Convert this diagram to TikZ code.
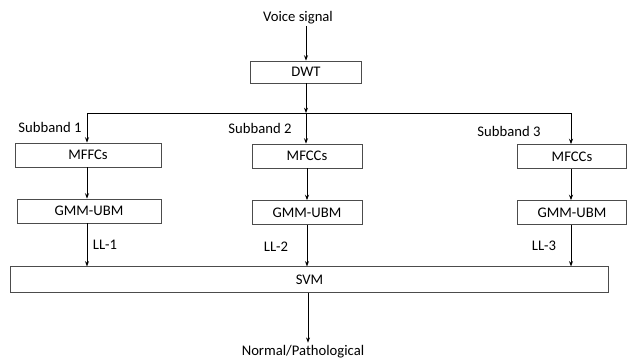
\documentclass[tikz,border=0pt]{standalone}
\usepackage{fontspec}
\setmainfont{Carlito}
\usetikzlibrary{arrows.meta}
\tikzset{
  blk/.style={draw=black!70, line width=0.6pt, inner sep=0pt},
  lbl/.style={inner sep=1pt},
  flow/.style={draw, line width=0.6pt, -{Stealth[length=4pt,width=3pt]}}
}
\begin{document}
\begin{tikzpicture}[x=0.75pt,y=-0.75pt,font=\fontsize{11}{13}\selectfont]
% page is 628 x 358 px, y grows downwards
\useasboundingbox (0,0) rectangle (628,358);
\node[lbl] (voice) at (298,18) {Voice signal};
\node[blk,minimum width=83pt,minimum height=16.5pt] (dwt) at (306,72) {DWT};
\coordinate (split) at (306,113);
\coordinate (splitA) at (87,113);
\coordinate (splitC) at (571,113);
% three subbands
\node[blk,minimum width=109.5pt,minimum height=18pt] (mfccA) at (88,155) {MFFCs};
\node[blk,minimum width=82.5pt,minimum height=18pt] (mfccB) at (307,156) {MFCCs};
\node[blk,minimum width=82pt,minimum height=18pt] (mfccC) at (572,156.5) {MFCCs};
\node[blk,minimum width=108pt,minimum height=18pt] (gmmA) at (89,211) {GMM-UBM};
\node[blk,minimum width=82.5pt,minimum height=18pt] (gmmB) at (307,212.5) {GMM-UBM};
\node[blk,minimum width=82pt,minimum height=18pt] (gmmC) at (572,212.5) {GMM-UBM};
\node[lbl] (subA) at (50,127) {Subband 1};
\node[lbl] (subB) at (260,128) {Subband 2};
\node[lbl] (subC) at (509,131) {Subband 3};
\node[blk,minimum width=449pt,minimum height=19pt] (svm) at (309.5,279.5) {SVM};
\node[lbl] (llA) at (105,245) {LL-1};
\node[lbl] (llB) at (276,247) {LL-2};
\node[lbl] (llC) at (544,246) {LL-3};
\node[lbl,inner sep=2pt] (out) at (303,352) {Normal/Pathological};
\draw[flow] (voice.south -| dwt) -- (dwt);
\draw[flow] (dwt) -- (split);
\draw[line width=0.6pt] (splitA) -- (splitC);
\draw[flow] (split) -- (split |- mfccB.north);
\draw[flow] (splitA) -- (splitA |- mfccA.north);
\draw[flow] (splitC) -- (splitC |- mfccC.north);
\draw[flow] (mfccA.south -| splitA) -- (splitA |- gmmA.north);
\draw[flow] (mfccB) -- (gmmB);
\draw[flow] (mfccC.south -| splitC) -- (splitC |- gmmC.north);
\draw[flow] (gmmA.south -| splitA) -- (splitA |- svm.north);
\draw[flow] (gmmB) -- (gmmB |- svm.north);
\draw[flow] (gmmC.south -| splitC) -- (splitC |- svm.north);
\draw[flow] (svm.south -| out) ++(5,0) coordinate (svmout) -- (svmout |- out.north);
\end{tikzpicture}
\end{document}
